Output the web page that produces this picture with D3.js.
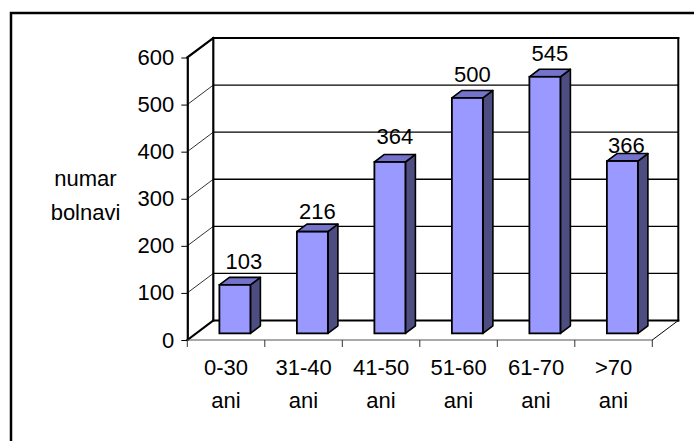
<!DOCTYPE html>
<html>
<head>
<meta charset="utf-8">
<script src="https://cdn.jsdelivr.net/npm/d3@7/dist/d3.min.js"></script>
<style>
  html, body { margin: 0; padding: 0; background: #fff; }
  svg { display: block; }
  text { font-family: "Liberation Sans", Arial, sans-serif; fill: #000; }
</style>
</head>
<body>
<svg id="chart" width="694" height="441"></svg>
<script>
// Patients by age group
const categories = ["0-30 ani", "31-40 ani", "41-50 ani", "51-60 ani", "61-70 ani", ">70 ani"];
const patients = [103, 216, 364, 500, 545, 366];
const yTicks = [0, 100, 200, 300, 400, 500, 600];
const yTitle = ["numar", "bolnavi"];

const svg = d3.select("#chart");
const W = 694, H = 441;

// plot geometry (front plane of the 3-D box)
const x0 = 187.3, x1 = 652.3, yBottom = 340, yTop = 57.5;
// depth offset of the box
const DX = 26, DY = -19.5;
// bars occupy this slice of the depth
const f0 = 0.34, f1 = 0.725;
const barFrac = 0.4;

const x = d3.scaleBand().domain(categories).range([x0, x1]).paddingInner(0).paddingOuter(0);
const y = d3.scaleLinear().domain([0, 600]).range([yBottom, yTop]);

const colFront = "#9999ff", colTop = "#7373cc", colSide = "#4d4d82";

// outer frame
svg.append("rect")
  .attr("x", 11).attr("y", 13).attr("width", W + 20).attr("height", H + 20)
  .attr("fill", "#fff").attr("stroke", "#000").attr("stroke-width", 2.5);

const g = svg.append("g");

// back wall
g.append("rect")
  .attr("x", x0 + DX).attr("y", y(600) + DY)
  .attr("width", x1 - x0).attr("height", y(0) - y(600))
  .attr("fill", "#fff");

// gridlines on the back wall and the left wall
const inner = yTicks.filter(v => v > 0 && v < 600);
g.selectAll("line.grid").data(inner).join("line")
  .attr("class", "grid")
  .attr("x1", x0 + DX).attr("x2", x1 + DX)
  .attr("y1", d => y(d) + DY).attr("y2", d => y(d) + DY)
  .attr("stroke", "#000").attr("stroke-width", 1.3);
g.selectAll("line.sidegrid").data(inner).join("line")
  .attr("class", "sidegrid")
  .attr("x1", x0).attr("x2", x0 + DX)
  .attr("y1", d => y(d)).attr("y2", d => y(d) + DY)
  .attr("stroke", "#000").attr("stroke-width", 0.8);

// box edges
const edge = (a, b, c, d, w) => g.append("line")
  .attr("x1", a).attr("y1", b).attr("x2", c).attr("y2", d)
  .attr("stroke", "#000").attr("stroke-width", w).attr("stroke-linecap", "square");
edge(x0 + DX, y(600) + DY, x1 + DX, y(600) + DY, 2);   // back top
edge(x1 + DX, y(600) + DY, x1 + DX, y(0) + DY, 2);     // back right
edge(x0 + DX, y(600) + DY, x0 + DX, y(0) + DY, 2.2);   // back left
edge(x0 + DX, y(0) + DY, x1 + DX, y(0) + DY, 2);       // floor back
edge(x0, y(600), x0 + DX, y(600) + DY, 2.2);           // left wall top
edge(x0, y(0), x0 + DX, y(0) + DY, 2);                 // floor left
edge(x1, y(0), x1 + DX, y(0) + DY, 1);                 // floor right

// bars
const bw = x.step() * barFrac;
const bars = categories.map((c, i) => {
  const cx = x(c) + x.bandwidth() / 2 + DX * f0;
  return {
    c, v: patients[i],
    xl: cx - bw / 2, xr: cx + bw / 2,
    yb: y(0) + DY * f0, yt: y(patients[i]) + DY * f0,
    ddx: DX * (f1 - f0), ddy: DY * (f1 - f0)
  };
});
const bg = g.append("g");
bars.forEach(b => {
  const gb = bg.append("g");
  // side face
  gb.append("path")
    .attr("d", `M${b.xr},${b.yb}L${b.xr + b.ddx},${b.yb + b.ddy}L${b.xr + b.ddx},${b.yt + b.ddy}L${b.xr},${b.yt}Z`)
    .attr("fill", colSide).attr("stroke", "#000").attr("stroke-width", 1.6).attr("stroke-linejoin", "round");
  // top face
  gb.append("path")
    .attr("d", `M${b.xl},${b.yt}L${b.xr},${b.yt}L${b.xr + b.ddx},${b.yt + b.ddy}L${b.xl + b.ddx},${b.yt + b.ddy}Z`)
    .attr("fill", colTop).attr("stroke", "#000").attr("stroke-width", 1.6).attr("stroke-linejoin", "round");
  // front face
  gb.append("rect")
    .attr("x", b.xl).attr("y", b.yt).attr("width", b.xr - b.xl).attr("height", b.yb - b.yt)
    .attr("fill", colFront).attr("stroke", "#000").attr("stroke-width", 1.8);
});

// value labels
const labelShift = { "0-30 ani": [4, 0], "31-40 ani": [0, 3], "41-50 ani": [0, -1.5], ">70 ani": [-1, 8] };
g.selectAll("text.val").data(bars).join("text")
  .attr("class", "val")
  .attr("x", d => (d.xl + d.xr) / 2 + 5 + (labelShift[d.c] ? labelShift[d.c][0] : 0))
  .attr("y", d => d.yt - 16 + (labelShift[d.c] ? labelShift[d.c][1] : 0))
  .attr("text-anchor", "middle")
  .attr("font-size", 22)
  .text(d => d.v);

// y axis on the front plane
const yAxis = d3.axisLeft(y).tickValues(yTicks).tickSize(6).tickSizeOuter(0).tickPadding(7);
const ya = svg.append("g").attr("transform", `translate(${x0},0)`).call(yAxis);
ya.select(".domain").attr("stroke", "#000").attr("stroke-width", 2.2);
ya.selectAll(".tick line").attr("stroke", "#000").attr("stroke-width", 1);
ya.selectAll(".tick text")
  .attr("font-size", 22).attr("font-family", "Liberation Sans, Arial, sans-serif")
  .attr("fill", "#000");

// x axis: front floor edge with ticks at category boundaries
svg.append("line")
  .attr("x1", x0).attr("x2", x1).attr("y1", y(0)).attr("y2", y(0))
  .attr("stroke", "#555").attr("stroke-width", 1.2);
const bounds = categories.map(c => x(c)).concat([x1]);
svg.selectAll("line.xtick").data(bounds).join("line")
  .attr("class", "xtick")
  .attr("x1", d => d).attr("x2", d => d)
  .attr("y1", y(0)).attr("y2", y(0) + 7)
  .attr("stroke", "#333").attr("stroke-width", 1);

const xl = svg.selectAll("text.cat").data(categories).join("text")
  .attr("class", "cat")
  .attr("text-anchor", "middle")
  .attr("font-size", 22);
xl.each(function (c) {
  const parts = c.split(" ");
  const cx = x(c) + x.bandwidth() / 2;
  d3.select(this).selectAll("tspan").data(parts).join("tspan")
    .attr("x", cx)
    .attr("y", (p, i) => 375 + i * 33)
    .text(p => p);
});

// y axis title
svg.append("text")
  .attr("text-anchor", "middle").attr("font-size", 22)
  .selectAll("tspan").data(yTitle).join("tspan")
  .attr("x", 85.5).attr("y", (p, i) => 186 + i * 34)
  .text(p => p);
</script>
</body>
</html>
